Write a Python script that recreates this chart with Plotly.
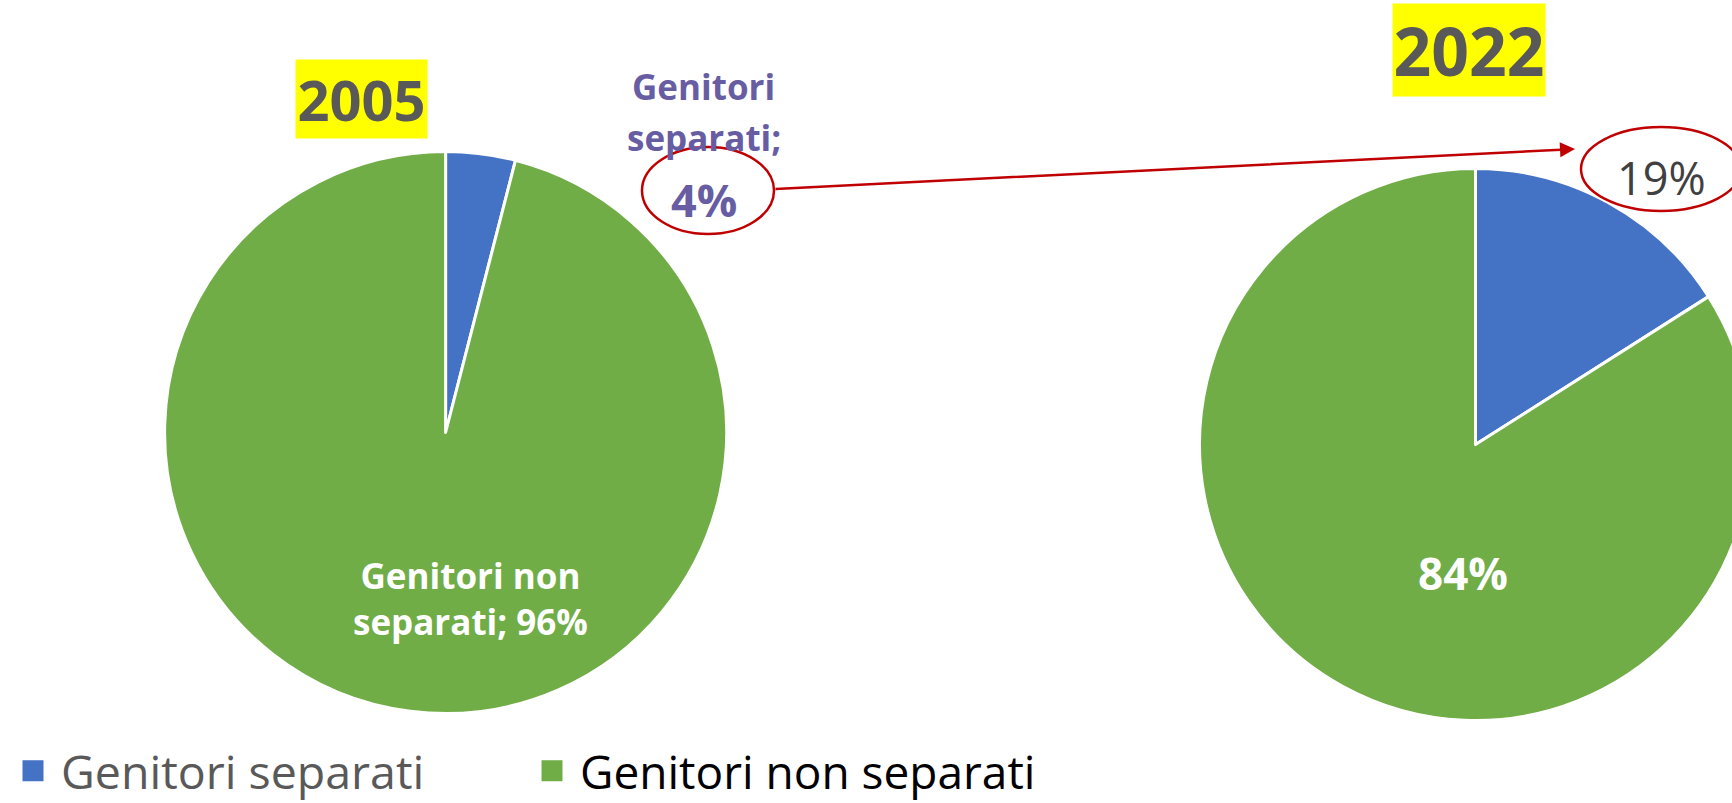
import plotly.graph_objects as go

# ---- data -------------------------------------------------------------
categories = ["Genitori separati", "Genitori non separati"]
colors = ["#4472C4", "#70AD47"]
years = ["2005", "2022"]
values_2005 = [4, 96]
values_2022 = [16, 84]
highlight_2022 = 19   # figure highlighted in the red callout for 2022

# ---- canvas -----------------------------------------------------------
W, H = 1760, 803
FONT = "Open Sans"


def px(x):
    return x / W


def py(y):
    return 1 - y / H


def circle_domain(cx, cy, r):
    return dict(x=[px(cx - r), px(cx + r)], y=[py(cy + r), py(cy - r)])


fig = go.Figure()

pie_common = dict(
    labels=categories,
    sort=False,
    direction="clockwise",
    rotation=0,
    textinfo="none",
    hoverinfo="label+percent",
    showlegend=False,
    marker=dict(colors=colors, line=dict(color="white", width=3)),
)
fig.add_trace(go.Pie(values=values_2005, domain=circle_domain(445.6, 432.5, 281), name=years[0], **pie_common))
fig.add_trace(go.Pie(values=values_2022, domain=circle_domain(1475.5, 444.5, 276), name=years[1], **pie_common))

# legend entries (square keys)
legend_names = [
    categories[0],
    '<span style="color:#000000;font-size:46px">%s</span>' % categories[1],
]
for name, col in zip(legend_names, colors):
    fig.add_trace(go.Scatter(
        x=[None], y=[None], mode="markers", name=name,
        marker=dict(symbol="square", size=16, color=col, line=dict(color=col, width=5)),
    ))

annotations = []
shapes = []


def label(x, y, text, size, color, bold=True, **kw):
    annotations.append(dict(
        x=px(x), y=py(y), xref="paper", yref="paper", xanchor="center", yanchor="middle",
        text=("<b>%s</b>" % text) if bold else text, showarrow=False,
        font=dict(family=FONT, size=size, color=color), **kw,
    ))


# year badges
label(361.5, 99, years[0], 56, "#595959", bgcolor="#FFFF00", width=131, height=78, borderpad=0)
label(1469, 50, years[1], 66, "#595959", bgcolor="#FFFF00", width=152, height=92, borderpad=0)

# 2005 slice labels
purple = "#675DA3"
label(703, 87, "Genitori", 35, purple)
label(703.5, 137, "separati;", 35, purple)
label(704, 199, "%d%%" % values_2005[0], 45, purple)
label(470, 598, "Genitori non<br>separati; %d%%" % values_2005[1], 35, "white")

# 2022 slice labels
label(1463, 572.5, "%d%%" % values_2022[1], 44, "white")
label(1661, 177.5, "%d%%" % highlight_2022, 45, "#404040", bold=False)

# red callouts and arrow
red = "#C00000"
shapes.append(dict(type="circle", xref="paper", yref="paper",
                   x0=px(642), x1=px(774), y0=py(234), y1=py(147),
                   line=dict(color=red, width=2.5)))
shapes.append(dict(type="circle", xref="paper", yref="paper",
                   x0=px(1581), x1=px(1741), y0=py(211), y1=py(127),
                   line=dict(color=red, width=2.5)))
annotations.append(dict(
    x=px(1575), y=py(149), xref="paper", yref="paper",
    ax=774 - 1575, ay=189 - 149, axref="pixel", ayref="pixel",
    text="", showarrow=True, arrowhead=2, arrowsize=1.2, arrowwidth=2.5,
    arrowcolor=red, standoff=0, startstandoff=0,
))

fig.update_layout(
    width=W, height=H,
    margin=dict(l=0, r=0, t=0, b=0, autoexpand=False),
    paper_bgcolor="white", plot_bgcolor="rgba(0,0,0,0)",
    xaxis=dict(visible=False), yaxis=dict(visible=False),
    showlegend=True,
    legend=dict(
        orientation="h", x=px(5), y=-5 / H, xanchor="left", yanchor="bottom",
        font=dict(family=FONT, size=46.5, color="#595959"),
        itemwidth=46, entrywidth=458, entrywidthmode="pixels",
        bgcolor="rgba(0,0,0,0)",
    ),
    annotations=annotations,
    shapes=shapes,
)

fig.write_html(
    "out.html",
    post_script="document.documentElement.style.overflow='hidden';"
                "document.body.style.overflow='hidden';document.body.style.margin='0';",
)
